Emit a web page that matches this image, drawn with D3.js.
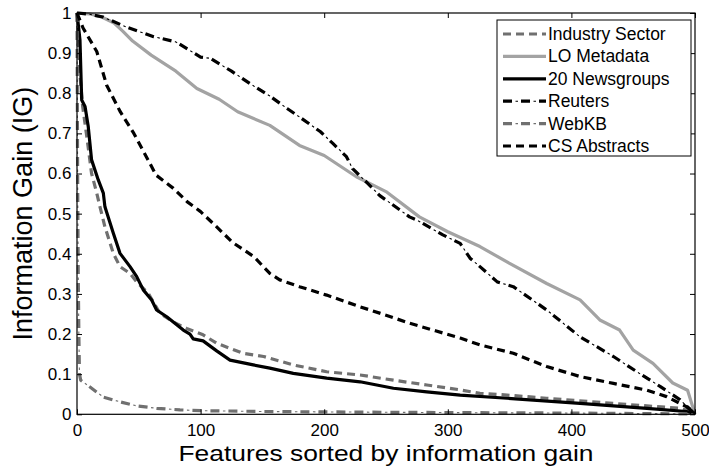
<!DOCTYPE html>
<html>
<head>
<meta charset="utf-8">
<script src="https://cdn.jsdelivr.net/npm/d3@7"></script>
<style>
  html, body { margin: 0; padding: 0; background: #fff; }
  svg { display: block; }
  text { font-family: "Liberation Sans", Arial, Helvetica, sans-serif; fill: #000; }
</style>
</head>
<body>
<svg id="chart" width="709" height="467"></svg>
<script>
// Information gain of the top-ranked features, one curve per corpus: [rank, IG]
const industrySector = [[0,1],[1,0.93],[2,0.86],[4.6,0.767],[8,0.69],[11.8,0.6],[16,0.551],[18.6,0.517],[22.6,0.467],[29.4,0.401],[34.8,0.368],[42.9,0.351],[48.3,0.33],[57.7,0.301],[67,0.252],[78,0.23],[88.7,0.214],[102,0.198],[113,0.177],[134.5,0.152],[151,0.144],[175,0.123],[202,0.106],[229,0.098],[256,0.085],[283,0.073],[310,0.061],[326,0.052],[348,0.048],[380,0.04],[434,0.027],[488,0.015],[500,0.004]];
const loMetadata = [[0,1],[10,0.998],[20,0.99],[30,0.975],[37,0.955],[45,0.93],[60,0.895],[80,0.855],[97,0.812],[115,0.785],[130,0.754],[156,0.72],[180,0.67],[200,0.645],[226,0.592],[250,0.555],[277,0.492],[300,0.455],[326,0.418],[350,0.376],[380,0.326],[407,0.285],[423,0.235],[439,0.21],[450,0.16],[466,0.127],[482,0.078],[494,0.06],[500,0.0]];
const newsgroups20 = [[0,1],[2.4,0.933],[3.8,0.783],[6.5,0.767],[9.1,0.717],[11.8,0.634],[17.2,0.584],[21.3,0.551],[22.6,0.517],[29.4,0.451],[34.8,0.401],[42.9,0.368],[48.3,0.343],[53.6,0.31],[60.4,0.285],[64.4,0.26],[72.6,0.243],[86,0.21],[91.4,0.2],[94,0.188],[102,0.183],[113,0.158],[123.8,0.135],[142.6,0.123],[156,0.115],[175,0.102],[202,0.09],[229,0.081],[256,0.065],[283,0.056],[310,0.048],[348,0.04],[407,0.027],[461,0.015],[493,0.007],[500,0.002]];
const reuters = [[0,1],[10,0.997],[21,0.99],[40,0.965],[62,0.941],[80,0.928],[100,0.89],[108,0.887],[125,0.855],[143,0.818],[156,0.793],[170,0.762],[180,0.741],[197,0.704],[207,0.675],[218,0.642],[223,0.612],[235,0.576],[245,0.545],[269,0.492],[275,0.484],[296,0.447],[310,0.426],[318,0.389],[326,0.368],[340,0.33],[353,0.318],[380,0.26],[407,0.193],[434,0.144],[455,0.102],[472,0.069],[488,0.036],[500,0]];
const webKB = [[0,1],[0.5,0.6],[1,0.35],[1.5,0.2],[2,0.1],[3,0.085],[10.5,0.068],[21.3,0.043],[34.8,0.031],[48.3,0.021],[64.4,0.015],[83.3,0.011],[102,0.009],[151,0.007],[250,0.005],[400,0.003],[500,0.001]];
const csAbstracts = [[0,1],[5,0.962],[16,0.904],[24,0.82],[35,0.754],[46,0.7],[54,0.654],[64,0.596],[78,0.563],[89,0.53],[100,0.505],[110,0.476],[126,0.428],[143,0.393],[156,0.351],[164,0.335],[180,0.318],[202,0.297],[229,0.268],[250,0.247],[269,0.227],[290,0.208],[310,0.19],[326,0.173],[353,0.152],[380,0.119],[407,0.094],[434,0.077],[461,0.06],[477,0.044],[493,0.019],[500,0.005]];

const seriesNames = ["Industry Sector", "LO Metadata", "20 Newsgroups", "Reuters", "WebKB", "CS Abstracts"];
const seriesValues = [industrySector, loMetadata, newsgroups20, reuters, webKB, csAbstracts];

const xTicks = [0, 100, 200, 300, 400, 500];
const yTicks = [0, 0.1, 0.2, 0.3, 0.4, 0.5, 0.6, 0.7, 0.8, 0.9, 1];
const xTitle = "Features sorted by information gain";
const yTitle = "Information Gain (IG)";

// Line styles per series: colour, dash pattern of the thick stroke, thin dot overlay for dash-dot
const styles = [
  { color: "#707070", dash: "8,5", dots: false },
  { color: "#a3a3a3", dash: null, dots: false },
  { color: "#000000", dash: null, dots: false },
  { color: "#000000", dash: "9,9", dots: true },
  { color: "#707070", dash: "9,9", dots: true },
  { color: "#000000", dash: "8,5", dots: false }
];

const svg = d3.select("#chart");
const plot = { left: 77, right: 695, top: 13, bottom: 414.3 };

const x = d3.scaleLinear().domain([0, 500]).range([plot.left, plot.right]);
const y = d3.scaleLinear().domain([0, 1]).range([plot.bottom, plot.top]);

svg.append("defs").append("clipPath").attr("id", "plotclip")
  .append("rect")
  .attr("x", plot.left - 2).attr("y", plot.top - 2)
  .attr("width", plot.right - plot.left + 4).attr("height", plot.bottom - plot.top + 4);

const line = d3.line().x(d => x(d[0])).y(d => y(d[1]));

// curves
const curves = svg.append("g").attr("clip-path", "url(#plotclip)");
seriesValues.forEach((vals, i) => {
  const s = styles[i];
  const p = curves.append("path")
    .attr("d", line(vals))
    .attr("fill", "none")
    .attr("stroke", s.color)
    .attr("stroke-width", 3.2)
    .attr("stroke-linejoin", "round")
    .attr("stroke-linecap", "butt");
  if (s.dash) p.attr("stroke-dasharray", s.dash);
  if (s.dots) {
    curves.append("path")
      .attr("d", line(vals))
      .attr("fill", "none")
      .attr("stroke", s.color)
      .attr("stroke-width", 1.1)
      .attr("stroke-dasharray", "0,12.5,2.5,3");
  }
});

// axes with inward ticks on all four sides
const fontSize = 17;
const axB = svg.append("g").attr("transform", `translate(0,${plot.bottom})`)
  .call(d3.axisBottom(x).tickValues(xTicks).tickFormat(d3.format("d")).tickSizeInner(-5).tickSizeOuter(0).tickPadding(10));
const axT = svg.append("g").attr("transform", `translate(0,${plot.top})`)
  .call(d3.axisTop(x).tickValues(xTicks).tickFormat("").tickSizeInner(-5).tickSizeOuter(0));
const axL = svg.append("g").attr("transform", `translate(${plot.left},0)`)
  .call(d3.axisLeft(y).tickValues(yTicks).tickFormat(d => d === 0 || d === 1 ? d3.format("d")(d) : d3.format(".1f")(d)).tickSizeInner(-5).tickSizeOuter(0).tickPadding(5.5));
const axR = svg.append("g").attr("transform", `translate(${plot.right},0)`)
  .call(d3.axisRight(y).tickValues(yTicks).tickFormat("").tickSizeInner(-5).tickSizeOuter(0));
[axB, axT, axL, axR].forEach(g => {
  g.select(".domain").remove();
  g.selectAll(".tick line").attr("stroke", "#000").attr("stroke-width", 1);
  g.selectAll("text").attr("font-size", fontSize).attr("font-family", null).attr("fill", "#000");
});

// box
svg.append("rect")
  .attr("x", plot.left).attr("y", plot.top)
  .attr("width", plot.right - plot.left).attr("height", plot.bottom - plot.top)
  .attr("fill", "none").attr("stroke", "#000").attr("stroke-width", 1.2);

// axis titles
svg.append("text")
  .attr("x", (plot.left + plot.right) / 2).attr("y", 460.5)
  .attr("text-anchor", "middle").attr("font-size", 22)
  .attr("textLength", 415).attr("lengthAdjust", "spacingAndGlyphs")
  .text(xTitle);
svg.append("text")
  .attr("transform", `translate(32,${(plot.top + plot.bottom) / 2}) rotate(-90)`)
  .attr("text-anchor", "middle").attr("font-size", 27)
  .text(yTitle);

// legend
const leg = svg.append("g");
const legBox = { x: 497, y: 20, w: 194, h: 136 };
leg.append("rect")
  .attr("x", legBox.x).attr("y", legBox.y).attr("width", legBox.w).attr("height", legBox.h)
  .attr("fill", "#fff").attr("stroke", "#000").attr("stroke-width", 1);
const rowY = d3.scaleLinear().domain([0, seriesNames.length - 1]).range([34, 146]);
seriesNames.forEach((name, i) => {
  const s = styles[i];
  const cy = rowY(i);
  const l = leg.append("line")
    .attr("x1", 503).attr("x2", 546).attr("y1", cy).attr("y2", cy)
    .attr("stroke", s.color).attr("stroke-width", 3.2);
  if (s.dash) l.attr("stroke-dasharray", s.dash);
  if (s.dots) {
    leg.append("line")
      .attr("x1", 503).attr("x2", 546).attr("y1", cy).attr("y2", cy)
      .attr("stroke", s.color).attr("stroke-width", 1.1)
      .attr("stroke-dasharray", "0,12.5,2.5,3");
  }
  leg.append("text")
    .attr("x", 548).attr("y", cy + 6)
    .attr("font-size", 17.5)
    .text(name);
});
</script>
</body>
</html>
